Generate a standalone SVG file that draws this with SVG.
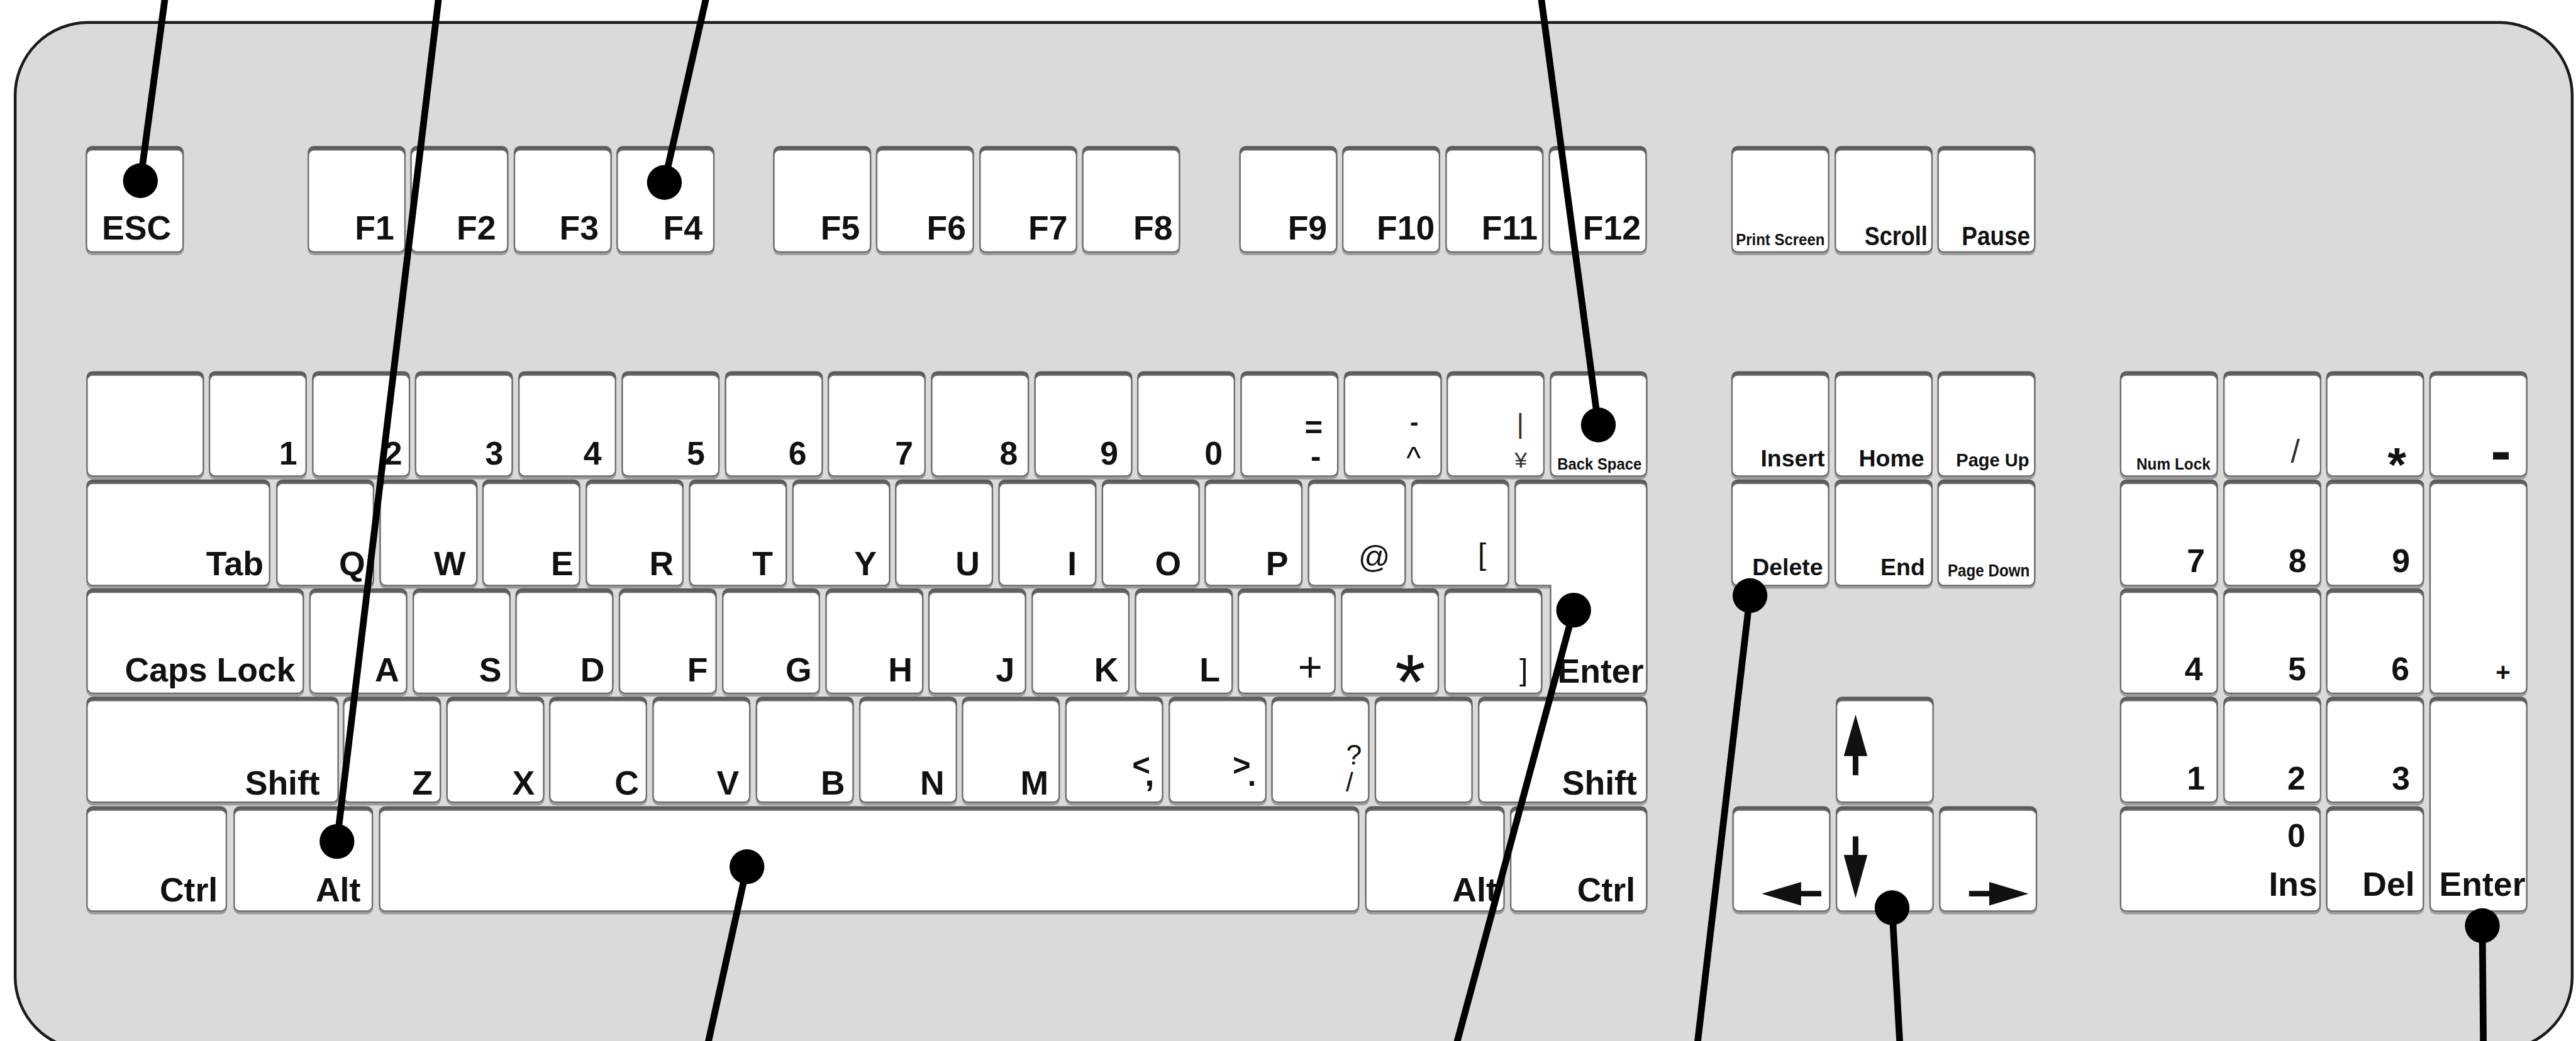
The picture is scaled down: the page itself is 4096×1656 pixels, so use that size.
<svg xmlns="http://www.w3.org/2000/svg" width="4096" height="1656" viewBox="0 0 4096 1656">
<style>
.body{fill:#dadada;stroke:#1a1a1a;stroke-width:5}
.k{fill:#fff;stroke:#6a6a6a;stroke-width:2.5;filter:url(#ksh)}
text{font-family:"Liberation Sans",Arial,sans-serif;fill:#111;text-anchor:middle}
.l{font-size:60px;font-weight:700}
.d{font-size:58px;font-weight:700}
.m{font-size:42px;font-weight:700}
.s{font-size:29px;font-weight:700}
.t{font-weight:400}
.b{font-weight:700}
.ar{fill:#111}
.ln{stroke:#000;stroke-width:12;stroke-linecap:round;fill:none}
.dot{fill:#000}
</style>
<defs>
<filter id="ksh" x="-3%" y="-10%" width="106%" height="120%">
<feOffset in="SourceAlpha" dy="-6" result="o1"/>
<feFlood flood-color="#5c5c5c" result="c1"/>
<feComposite in="c1" in2="o1" operator="in" result="s1"/>
<feOffset in="SourceAlpha" dy="5" result="o2"/>
<feFlood flood-color="#9c9c9c" result="c2"/>
<feComposite in="c2" in2="o2" operator="in" result="s2"/>
<feMerge><feMergeNode in="s1"/><feMergeNode in="s2"/><feMergeNode in="SourceGraphic"/></feMerge>
</filter>
</defs>
<rect width="4096" height="1656" fill="#fff"/>
<g transform="scale(0.893)">
<rect id="keyboard" class="body" x="27" y="40" width="4553" height="1830" rx="130"/>

<!-- Function row -->
<g id="k-esc"><rect class="k" x="154" y="267" width="172" height="182" rx="10"/><text class="l" x="243" y="427">ESC</text></g>
<g id="k-f1"><rect class="k" x="549" y="267" width="172" height="182" rx="10"/><text class="l" x="667" y="427">F1</text></g>
<g id="k-f2"><rect class="k" x="732" y="267" width="172" height="182" rx="10"/><text class="l" x="848" y="427">F2</text></g>
<g id="k-f3"><rect class="k" x="916" y="267" width="172" height="182" rx="10"/><text class="l" x="1031" y="427">F3</text></g>
<g id="k-f4"><rect class="k" x="1099" y="267" width="172" height="182" rx="10"/><text class="l" x="1216" y="427">F4</text></g>
<g id="k-f5"><rect class="k" x="1378" y="267" width="172" height="182" rx="10"/><text class="l" x="1496" y="427">F5</text></g>
<g id="k-f6"><rect class="k" x="1561" y="267" width="172" height="182" rx="10"/><text class="l" x="1685" y="427">F6</text></g>
<g id="k-f7"><rect class="k" x="1745" y="267" width="172" height="182" rx="10"/><text class="l" x="1866" y="427">F7</text></g>
<g id="k-f8"><rect class="k" x="1928" y="267" width="172" height="182" rx="10"/><text class="l" x="2053" y="427">F8</text></g>
<g id="k-f9"><rect class="k" x="2208" y="267" width="172" height="182" rx="10"/><text class="l" x="2328" y="427">F9</text></g>
<g id="k-f10"><rect class="k" x="2391" y="267" width="172" height="182" rx="10"/><text class="l" x="2503" y="427">F10</text></g>
<g id="k-f11"><rect class="k" x="2575" y="267" width="172" height="182" rx="10"/><text class="l" x="2688" y="427">F11</text></g>
<g id="k-f12"><rect class="k" x="2759" y="267" width="172" height="182" rx="10"/><text class="l" x="2870" y="427">F12</text></g>
<g id="k-prtsc"><rect class="k" x="3084" y="267" width="172" height="182" rx="10"/><text class="s" x="3170" y="437" textLength="158" lengthAdjust="spacingAndGlyphs">Print Screen</text></g>
<g id="k-scroll"><rect class="k" x="3268" y="267" width="172" height="182" rx="10"/><text style="font-size:48px;font-weight:700" x="3376" y="437" textLength="112" lengthAdjust="spacingAndGlyphs">Scroll</text></g>
<g id="k-pause"><rect class="k" x="3451" y="267" width="172" height="182" rx="10"/><text style="font-size:48px;font-weight:700" x="3554" y="437" textLength="122" lengthAdjust="spacingAndGlyphs">Pause</text></g>

<!-- Row 1 -->
<g id="k-blank1"><rect class="k" x="155" y="668" width="207" height="180" rx="10"/></g>
<g id="k-1"><rect class="k" x="373" y="668" width="172" height="180" rx="10"/><text class="d" x="513" y="828">1</text></g>
<g id="k-2"><rect class="k" x="557" y="668" width="172" height="180" rx="10"/><text class="d" x="700" y="828">2</text></g>
<g id="k-3"><rect class="k" x="740" y="668" width="172" height="180" rx="10"/><text class="d" x="880" y="828">3</text></g>
<g id="k-4"><rect class="k" x="924" y="668" width="172" height="180" rx="10"/><text class="d" x="1055" y="828">4</text></g>
<g id="k-5"><rect class="k" x="1108" y="668" width="172" height="180" rx="10"/><text class="d" x="1239" y="828">5</text></g>
<g id="k-6"><rect class="k" x="1292" y="668" width="172" height="180" rx="10"/><text class="d" x="1420" y="828">6</text></g>
<g id="k-7"><rect class="k" x="1475" y="668" width="172" height="180" rx="10"/><text class="d" x="1610" y="828">7</text></g>
<g id="k-8"><rect class="k" x="1659" y="668" width="172" height="180" rx="10"/><text class="d" x="1796" y="828">8</text></g>
<g id="k-9"><rect class="k" x="1843" y="668" width="172" height="180" rx="10"/><text class="d" x="1975" y="828">9</text></g>
<g id="k-0"><rect class="k" x="2026" y="668" width="172" height="180" rx="10"/><text class="d" x="2161" y="828">0</text></g>
<g id="k-equal"><rect class="k" x="2210" y="668" width="172" height="180" rx="10"/><text class="b" style="font-size:55px"><tspan x="2339" y="780">=</tspan><tspan x="2343" y="832">-</tspan></text></g>
<g id="k-caret"><rect class="k" x="2394" y="668" width="172" height="180" rx="10"/><text class="t" style="font-size:55px"><tspan class="b" style="font-size:45px" x="2518" y="767">-</tspan><tspan x="2517" y="834">^</tspan></text></g>
<g id="k-yen"><rect class="k" x="2577" y="668" width="172" height="180" rx="10"/><text class="t" style="font-size:40px;fill:#333"><tspan style="font-size:50px" x="2707" y="772">|</tspan><tspan x="2708" y="833">¥</tspan></text></g>
<g id="k-backspace"><rect class="k" x="2761" y="668" width="171" height="180" rx="10"/><text class="s" x="2848" y="837" textLength="150" lengthAdjust="spacingAndGlyphs">Back Space</text></g>

<!-- Row 2 -->
<g id="k-tab"><rect class="k" x="155" y="861" width="325" height="182" rx="10"/><text class="l" x="418" y="1025">Tab</text></g>
<g id="k-q"><rect class="k" x="493" y="861" width="172" height="182" rx="10"/><text class="l" x="627" y="1025">Q</text></g>
<g id="k-w"><rect class="k" x="677" y="861" width="172" height="182" rx="10"/><text class="l" x="801" y="1025">W</text></g>
<g id="k-e"><rect class="k" x="860" y="861" width="172" height="182" rx="10"/><text class="l" x="1001" y="1025">E</text></g>
<g id="k-r"><rect class="k" x="1044" y="861" width="172" height="182" rx="10"/><text class="l" x="1178" y="1025">R</text></g>
<g id="k-t"><rect class="k" x="1228" y="861" width="172" height="182" rx="10"/><text class="l" x="1358" y="1025">T</text></g>
<g id="k-y"><rect class="k" x="1412" y="861" width="172" height="182" rx="10"/><text class="l" x="1541" y="1025">Y</text></g>
<g id="k-u"><rect class="k" x="1595" y="861" width="172" height="182" rx="10"/><text class="l" x="1723" y="1025">U</text></g>
<g id="k-i"><rect class="k" x="1779" y="861" width="172" height="182" rx="10"/><text class="l" x="1909" y="1025">I</text></g>
<g id="k-o"><rect class="k" x="1963" y="861" width="172" height="182" rx="10"/><text class="l" x="2080" y="1025">O</text></g>
<g id="k-p"><rect class="k" x="2146" y="861" width="172" height="182" rx="10"/><text class="l" x="2274" y="1025">P</text></g>
<g id="k-at"><rect class="k" x="2330" y="861" width="172" height="182" rx="10"/><text class="t" style="font-size:56px" x="2447" y="1011">@</text></g>
<g id="k-lbracket"><rect class="k" x="2514" y="861" width="172" height="182" rx="10"/><text class="t" style="font-size:53px" x="2639" y="1006">[</text></g>
<g id="k-enter"><path class="k" d="M2708,861 H2922 Q2932,861 2932,871 V1225 Q2932,1235 2922,1235 H2771 Q2761,1235 2761,1225 V1043 H2708 Q2698,1043 2698,1033 V871 Q2698,861 2708,861 Z"/><text class="l" x="2850" y="1216">Enter</text></g>

<!-- Row 3 -->
<g id="k-caps"><rect class="k" x="155" y="1055" width="385" height="180" rx="10"/><text class="l" x="374" y="1214">Caps Lock</text></g>
<g id="k-a"><rect class="k" x="552" y="1055" width="172" height="180" rx="10"/><text class="l" x="689" y="1214">A</text></g>
<g id="k-s"><rect class="k" x="736" y="1055" width="172" height="180" rx="10"/><text class="l" x="873" y="1214">S</text></g>
<g id="k-d"><rect class="k" x="919" y="1055" width="172" height="180" rx="10"/><text class="l" x="1055" y="1214">D</text></g>
<g id="k-f"><rect class="k" x="1103" y="1055" width="172" height="180" rx="10"/><text class="l" x="1242" y="1214">F</text></g>
<g id="k-g"><rect class="k" x="1287" y="1055" width="172" height="180" rx="10"/><text class="l" x="1422" y="1214">G</text></g>
<g id="k-h"><rect class="k" x="1471" y="1055" width="172" height="180" rx="10"/><text class="l" x="1603" y="1214">H</text></g>
<g id="k-j"><rect class="k" x="1654" y="1055" width="172" height="180" rx="10"/><text class="l" x="1790" y="1214">J</text></g>
<g id="k-k"><rect class="k" x="1838" y="1055" width="172" height="180" rx="10"/><text class="l" x="1970" y="1214">K</text></g>
<g id="k-l"><rect class="k" x="2022" y="1055" width="172" height="180" rx="10"/><text class="l" x="2154" y="1214">L</text></g>
<g id="k-plus"><rect class="k" x="2205" y="1055" width="172" height="180" rx="10"/><text class="t" style="font-size:75px" x="2333" y="1214">+</text></g>
<g id="k-star"><rect class="k" x="2389" y="1055" width="172" height="180" rx="10"/><text class="t" style="font-size:140px" x="2511" y="1263">*</text></g>
<g id="k-rbracket"><rect class="k" x="2573" y="1055" width="172" height="180" rx="10"/><text class="t" style="font-size:54px" x="2713" y="1212">]</text></g>

<!-- Row 4 -->
<g id="k-lshift"><rect class="k" x="155" y="1248" width="447" height="181" rx="10"/><text class="l" x="503" y="1415">Shift</text></g>
<g id="k-z"><rect class="k" x="612" y="1248" width="172" height="181" rx="10"/><text class="l" x="752" y="1415">Z</text></g>
<g id="k-x"><rect class="k" x="796" y="1248" width="172" height="181" rx="10"/><text class="l" x="932" y="1415">X</text></g>
<g id="k-c"><rect class="k" x="979" y="1248" width="172" height="181" rx="10"/><text class="l" x="1116" y="1415">C</text></g>
<g id="k-v"><rect class="k" x="1163" y="1248" width="172" height="181" rx="10"/><text class="l" x="1296" y="1415">V</text></g>
<g id="k-b"><rect class="k" x="1347" y="1248" width="172" height="181" rx="10"/><text class="l" x="1483" y="1415">B</text></g>
<g id="k-n"><rect class="k" x="1531" y="1248" width="172" height="181" rx="10"/><text class="l" x="1660" y="1415">N</text></g>
<g id="k-m"><rect class="k" x="1714" y="1248" width="172" height="181" rx="10"/><text class="l" x="1842" y="1415">M</text></g>
<g id="k-comma"><rect class="k" x="1898" y="1248" width="172" height="181" rx="10"/><text class="b" style="font-size:55px"><tspan x="2032" y="1382">&lt;</tspan><tspan style="font-size:62px" x="2047" y="1400">,</tspan></text></g>
<g id="k-period"><rect class="k" x="2082" y="1248" width="172" height="181" rx="10"/><text class="b" style="font-size:55px"><tspan x="2211" y="1382">&gt;</tspan><tspan x="2229" y="1400">.</tspan></text></g>
<g id="k-slash"><rect class="k" x="2265" y="1248" width="172" height="181" rx="10"/><text class="t" style="font-size:50px"><tspan x="2411" y="1362">?</tspan><tspan style="font-size:47px" x="2403" y="1410">/</tspan></text></g>
<g id="k-blank4"><rect class="k" x="2449" y="1248" width="172" height="181" rx="10"/></g>
<g id="k-rshift"><rect class="k" x="2633" y="1248" width="299" height="181" rx="10"/><text class="l" x="2848" y="1415">Shift</text></g>

<!-- Row 5 -->
<g id="k-lctrl"><rect class="k" x="155" y="1443" width="248" height="180" rx="10"/><text class="l" x="336" y="1606">Ctrl</text></g>
<g id="k-lalt"><rect class="k" x="417" y="1443" width="246" height="180" rx="10"/><text class="l" x="602" y="1606">Alt</text></g>
<g id="k-space"><rect class="k" x="676" y="1443" width="1743" height="180" rx="10"/></g>
<g id="k-ralt"><rect class="k" x="2432" y="1443" width="246" height="180" rx="10"/><text class="l" x="2626" y="1606">Alt</text></g>
<g id="k-rctrl"><rect class="k" x="2690" y="1443" width="242" height="180" rx="10"/><text class="l" x="2860" y="1606">Ctrl</text></g>

<!-- Navigation -->
<g id="k-insert"><rect class="k" x="3084" y="668" width="172" height="180" rx="10"/><text class="m" x="3192" y="831">Insert</text></g>
<g id="k-home"><rect class="k" x="3268" y="668" width="172" height="180" rx="10"/><text class="m" x="3368" y="831">Home</text></g>
<g id="k-pgup"><rect class="k" x="3451" y="668" width="172" height="180" rx="10"/><text style="font-size:34px;font-weight:700" x="3548" y="831" textLength="130" lengthAdjust="spacingAndGlyphs">Page Up</text></g>
<g id="k-delete"><rect class="k" x="3084" y="861" width="172" height="182" rx="10"/><text class="m" x="3183" y="1025">Delete</text></g>
<g id="k-end"><rect class="k" x="3268" y="861" width="172" height="182" rx="10"/><text class="m" x="3388" y="1025">End</text></g>
<g id="k-pgdn"><rect class="k" x="3451" y="861" width="172" height="182" rx="10"/><text style="font-size:31px;font-weight:700" x="3541" y="1027" textLength="146" lengthAdjust="spacingAndGlyphs">Page Down</text></g>

<!-- Arrows -->
<g id="k-up"><rect class="k" x="3270" y="1248" width="172" height="181" rx="10"/><polygon class="ar" points="3304,1273 3325,1347 3309,1347 3309,1381 3299,1381 3299,1347 3283,1347"/></g>
<g id="k-left"><rect class="k" x="3086" y="1443" width="172" height="180" rx="10"/><polygon class="ar" points="3137,1592 3207,1571 3207,1587 3243,1587 3243,1597 3207,1597 3207,1613"/></g>
<g id="k-down"><rect class="k" x="3270" y="1443" width="172" height="180" rx="10"/><polygon class="ar" points="3299,1490 3309,1490 3309,1523 3325,1523 3304,1600 3283,1523 3299,1523"/></g>
<g id="k-right"><rect class="k" x="3454" y="1443" width="172" height="180" rx="10"/><polygon class="ar" points="3612,1592 3542,1571 3542,1587 3506,1587 3506,1597 3542,1597 3542,1613"/></g>

<!-- Numpad -->
<g id="k-numlock"><rect class="k" x="3776" y="668" width="172" height="180" rx="10"/><text class="s" style="font-size:28px" x="3870" y="837" textLength="132" lengthAdjust="spacingAndGlyphs">Num Lock</text></g>
<g id="k-ndiv"><rect class="k" x="3960" y="668" width="172" height="180" rx="10"/><text class="t" style="font-size:58px;fill:#333" x="4087" y="824">/</text></g>
<g id="k-nmul"><rect class="k" x="4143" y="668" width="172" height="180" rx="10"/><text class="l" style="font-size:85px" x="4268" y="857">*</text></g>
<g id="k-nsub"><rect class="k" x="4327" y="668" width="172" height="180" rx="10"/><text class="l" style="font-size:110px" x="4453" y="841">-</text></g>
<g id="k-n7"><rect class="k" x="3776" y="861" width="172" height="182" rx="10"/><text class="d" x="3910" y="1019">7</text></g>
<g id="k-n8"><rect class="k" x="3960" y="861" width="172" height="182" rx="10"/><text class="d" x="4091" y="1019">8</text></g>
<g id="k-n9"><rect class="k" x="4143" y="861" width="172" height="182" rx="10"/><text class="d" x="4275" y="1019">9</text></g>
<g id="k-nadd"><rect class="k" x="4327" y="861" width="172" height="374" rx="10"/><text class="l" style="font-size:45px" x="4457" y="1213">+</text></g>
<g id="k-n4"><rect class="k" x="3776" y="1055" width="172" height="180" rx="10"/><text class="d" x="3906" y="1212">4</text></g>
<g id="k-n5"><rect class="k" x="3960" y="1055" width="172" height="180" rx="10"/><text class="d" x="4090" y="1212">5</text></g>
<g id="k-n6"><rect class="k" x="4143" y="1055" width="172" height="180" rx="10"/><text class="d" x="4274" y="1212">6</text></g>
<g id="k-n1"><rect class="k" x="3776" y="1248" width="172" height="181" rx="10"/><text class="d" x="3910" y="1406">1</text></g>
<g id="k-n2"><rect class="k" x="3960" y="1248" width="172" height="181" rx="10"/><text class="d" x="4089" y="1406">2</text></g>
<g id="k-n3"><rect class="k" x="4143" y="1248" width="172" height="181" rx="10"/><text class="d" x="4275" y="1406">3</text></g>
<g id="k-nenter"><rect class="k" x="4327" y="1248" width="172" height="375" rx="10"/><text class="l" x="4420" y="1596">Enter</text></g>
<g id="k-n0"><rect class="k" x="3776" y="1443" width="355" height="180" rx="10"/><text class="l"><tspan class="d" x="4089" y="1508">0</tspan><tspan x="4083" y="1596">Ins</tspan></text></g>
<g id="k-ndel"><rect class="k" x="4143" y="1443" width="172" height="180" rx="10"/><text class="l" x="4253" y="1596">Del</text></g>

<!-- Connectors -->
<g id="connectors">
<line class="ln" x1="250" y1="322" x2="296" y2="-20"/>
<line class="ln" x1="600" y1="1499" x2="783" y2="-20"/>
<line class="ln" x1="1183" y1="325" x2="1261" y2="-20"/>
<line class="ln" x1="2846" y1="757" x2="2742" y2="-20"/>
<line class="ln" x1="1330" y1="1544" x2="1256" y2="1880"/>
<line class="ln" x1="2802" y1="1087" x2="2588" y2="1880"/>
<line class="ln" x1="3116" y1="1061" x2="3020" y2="1880"/>
<line class="ln" x1="3369" y1="1617" x2="3384" y2="1880"/>
<line class="ln" x1="4420" y1="1649" x2="4422" y2="1880"/>
<circle class="dot" cx="250" cy="322" r="31"/>
<circle class="dot" cx="600" cy="1499" r="31"/>
<circle class="dot" cx="1183" cy="325" r="31"/>
<circle class="dot" cx="2846" cy="757" r="31"/>
<circle class="dot" cx="1330" cy="1544" r="31"/>
<circle class="dot" cx="2802" cy="1087" r="31"/>
<circle class="dot" cx="3116" cy="1061" r="31"/>
<circle class="dot" cx="3369" cy="1617" r="31"/>
<circle class="dot" cx="4420" cy="1649" r="31"/>
</g>
</g>
</svg>
